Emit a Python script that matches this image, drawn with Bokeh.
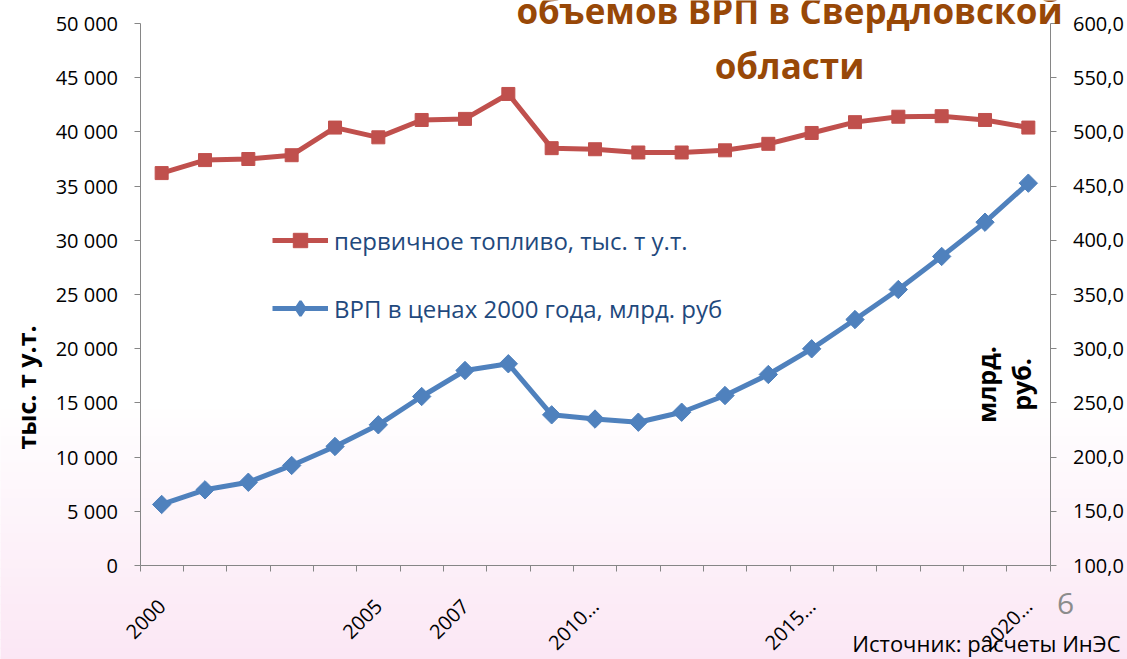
import math
from bokeh.plotting import figure
from bokeh.models import (Range1d, LinearAxis, FixedTicker, Label, Legend,
                          LegendItem, BoxAnnotation)
from bokeh.embed import file_html
from bokeh.resources import INLINE

# ---------------- data ----------------
years = list(range(2000, 2021))
fuel = [36200, 37400, 37500, 37850, 40400, 39500, 41100, 41200, 43500, 38500,
        38400, 38100, 38100, 38300, 38900, 39900, 40900, 41400, 41450, 41100, 40400]
grp = [156.3, 169.8, 176.8, 192.3, 209.8, 229.8, 255.9, 279.9, 286.1, 239.0,
       235.1, 232.2, 241.4, 256.8, 276.2, 299.9, 326.9, 354.6, 385.1, 416.7, 452.7]
label_years = [2000, 2005, 2007, 2010, 2015, 2020]
label_texts = ["2000", "2005", "2007", "2010…", "2015…", "2020…"]
left_ticks = list(range(0, 50001, 5000))
right_ticks = list(range(100, 601, 50))
fuel_name = "первичное топливо, тыс. т у.т."
grp_name = "ВРП в ценах 2000 года, млрд. руб"
title_lines = ["объемов ВРП в Свердловской", "области"]
left_title = "тыс. т у.т."
right_title = ["млрд.", "руб."]
source_text = "Источник: расчеты ИнЭС"
page_no = "6"

RED = "#c0504d"
BLUE = "#4f81bd"
AX = "#868686"
FONT = "Open Sans"

# ---------------- layout (pixels of the chart area) ----------------
W, H = 1127, 659
FL, FR, FT, FB = 139.5, 1049.5, 23.0, 565.0
x0, x1 = years[0] - 0.5, years[-1] + 0.5
y0, y1 = left_ticks[0], left_ticks[-1]
g0, g1 = right_ticks[0], right_ticks[-1]
xpp = (x1 - x0) / (FR - FL)
ypp = (y1 - y0) / (FB - FT)
gpp = (g1 - g0) / (FB - FT)

p = figure(width=W, height=H,
           x_range=Range1d(x0 - FL * xpp, x1 + (W - FR) * xpp),
           y_range=Range1d(y0 - (H - FB) * ypp, y1 + FT * ypp),
           x_axis_type=None, y_axis_type=None, min_border=0,
           output_backend="svg", toolbar_location=None,
           background_fill_color="white", border_fill_color="white",
           outline_line_color=None)
p.grid.visible = False
p.extra_y_ranges = {"grp": Range1d(g0 - (H - FB) * gpp, g1 + FT * gpp)}

def dx(px):
    return x0 + (px - FL) * xpp

def dy(py):
    return y0 + (FB - py) * ypp

# background gradient (white -> pink towards the bottom)
n = 30
top_px, bot_px = 400, 665
c0 = (255, 255, 255)
c1 = (251, 230, 244)
for i in range(n):
    t = (i + 0.5) / n
    col = tuple(int(round(c0[k] + (c1[k] - c0[k]) * t)) for k in range(3))
    y_top = top_px + (bot_px - top_px) * i / n
    y_bot = top_px + (bot_px - top_px) * (i + 1) / n + 1
    p.add_layout(BoxAnnotation(left=dx(-20), right=dx(W + 20), top=dy(y_top), bottom=dy(y_bot),
                               fill_color="#%02x%02x%02x" % col, fill_alpha=1,
                               line_alpha=0, level="underlay"))

TICK_FONT = "20px"

# x axis: tick marks between categories
xa = LinearAxis(fixed_location=y0, bounds=(x0, x1),
                ticker=FixedTicker(ticks=[y - 0.5 for y in years] + [years[-1] + 0.5]),
                major_label_text_font_size="0px", major_label_standoff=0,
                major_tick_out=6, major_tick_in=0, minor_tick_line_color=None,
                axis_line_color=AX, major_tick_line_color=AX)
p.add_layout(xa, "below")

# x labels axis
xl = LinearAxis(fixed_location=y0, ticker=FixedTicker(ticks=label_years),
                major_label_overrides={y: t for y, t in zip(label_years, label_texts)},
                major_label_orientation=math.pi / 4,
                axis_line_color=None, major_tick_line_color=None,
                minor_tick_line_color=None, major_label_standoff=31,
                major_label_text_font=FONT, major_label_text_font_size=TICK_FONT,
                major_label_text_color="black")
p.add_layout(xl, "below")

# left axis
ya = LinearAxis(fixed_location=x0, bounds=(y0, y1), ticker=FixedTicker(ticks=left_ticks),
                major_label_overrides={t: f"{t:,}".replace(",", " ") for t in left_ticks},
                major_tick_out=6, major_tick_in=0, minor_tick_line_color=None,
                axis_line_color=AX, major_tick_line_color=AX,
                major_label_standoff=16, major_label_text_font=FONT,
                major_label_text_font_size=TICK_FONT, major_label_text_color="black")
p.add_layout(ya, "left")

# right axis
ra = LinearAxis(y_range_name="grp", fixed_location=x1, bounds=(g0, g1),
                ticker=FixedTicker(ticks=right_ticks),
                major_label_overrides={t: f"{t:.1f}".replace(".", ",") for t in right_ticks},
                major_tick_out=6, major_tick_in=0, minor_tick_line_color=None,
                axis_line_color=AX, major_tick_line_color=AX,
                major_label_standoff=17, major_label_text_font=FONT,
                major_label_text_font_size=TICK_FONT, major_label_text_color="black")
p.add_layout(ra, "right")

# series
r1l = p.line(years, fuel, line_color=RED, line_width=5, line_join="round")
r1m = p.scatter(years, fuel, marker="square", size=13, fill_color=RED, line_color=RED)
r2l = p.line(years, grp, line_color=BLUE, line_width=5, line_join="round",
             y_range_name="grp")
# diamond renderer (hidden beneath the rotated squares; used for the legend glyph)
r2k = p.scatter(years, grp, marker="diamond", size=11, fill_color=BLUE,
                line_color=BLUE, line_width=2.5, y_range_name="grp")
r2m = p.scatter(years, grp, marker="square", angle=math.pi / 4, size=13,
                fill_color=BLUE, line_color=BLUE, y_range_name="grp")

legend = Legend(items=[LegendItem(label=fuel_name, renderers=[r1l, r1m]),
                       LegendItem(label=grp_name, renderers=[r2l, r2k])],
                location=(272, H - 326), glyph_width=56, glyph_height=36,
                label_height=36, spacing=32, padding=0, margin=0,
                border_line_color=None, background_fill_alpha=0,
                label_text_font=FONT, label_text_font_size="24px",
                label_text_color="#1f497d", label_standoff=6)
p.add_layout(legend)

# title
for txt, py in zip(title_lines, [10, 64.5]):
    p.add_layout(Label(x=dx(789), y=dy(py), text=txt, text_align="center",
                       text_baseline="alphabetic", text_font=FONT,
                       text_font_style="bold", text_font_size="35px",
                       text_color="#984807"))

# axis titles
p.add_layout(Label(x=dx(25), y=dy(387), text=left_title, angle=math.pi / 2,
                   text_align="center", text_baseline="middle", text_font=FONT,
                   text_font_style="bold", text_font_size="25px", text_color="black"))
for txt, px in zip(right_title, [985, 1020]):
    p.add_layout(Label(x=dx(px), y=dy(384), text=txt, angle=math.pi / 2,
                       text_align="center", text_baseline="middle", text_font=FONT,
                       text_font_style="bold", text_font_size="25px", text_color="black"))

# page number and source
p.add_layout(Label(x=dx(1065), y=dy(603), text=page_no, text_align="center",
                   text_baseline="alphabetic", text_font=FONT,
                   text_font_size="30px", text_color="#8c8c8c"))
p.add_layout(Label(x=dx(1120), y=dy(642), text=source_text, text_align="right",
                   text_baseline="alphabetic", text_font=FONT,
                   text_font_size="22px", text_color="black"))

open("out.html", "w").write(file_html(p, INLINE))
